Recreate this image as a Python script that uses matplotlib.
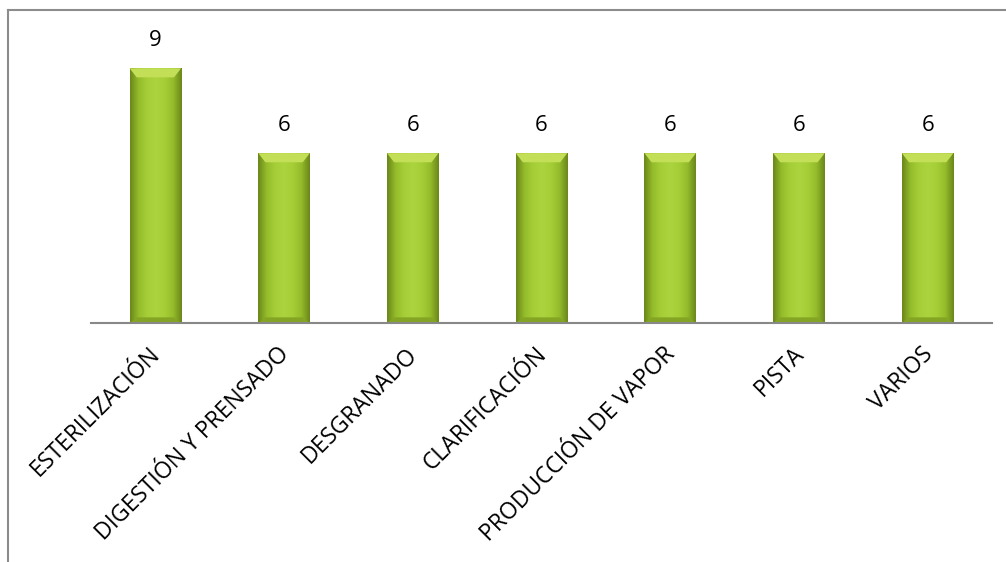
import numpy as np
import matplotlib.pyplot as plt
from matplotlib.lines import Line2D
from matplotlib.colors import LinearSegmentedColormap
from matplotlib.transforms import ScaledTranslation

# data
categories = ["ESTERILIZACIÓN", "DIGESTIÓN Y PRENSADO", "DESGRANADO",
              "CLARIFICACIÓN", "PRODUCCIÓN DE VAPOR", "PISTA", "VARIOS"]
values = [9, 6, 6, 6, 6, 6, 6]

plt.rcParams['font.family'] = ['Open Sans', 'DejaVu Sans']

fig = plt.figure(figsize=(10.06, 5.62), dpi=100)
ax = fig.add_axes([91 / 1006, 1 - 323 / 562, 901 / 1006, 283 / 562])

x = np.arange(len(categories))
width = 0.40
bars = ax.bar(x, values, width=width, color='#9cc42e', edgecolor='none', zorder=2)

# horizontal gradient on each bar: darker sides, lighter middle
side = LinearSegmentedColormap.from_list(
    'side', ['#6a861a', '#95bd2b', '#a6ce37', '#acd43e', '#a6ce37', '#95bd2b', '#6a861a'])
grad = np.linspace(0, 1, 256).reshape(1, -1)
for b in bars:
    x0, w, h = b.get_x(), b.get_width(), b.get_height()
    im = ax.imshow(grad, cmap=side, aspect='auto', zorder=3,
                   extent=[x0, x0 + w, 0, h], interpolation='bicubic')
    im.set_clip_path(b)
    # bevel on top
    bev = 0.32
    ins = 0.055
    ax.fill([x0, x0 + w, x0 + w - ins, x0 + ins],
            [h, h, h - bev, h - bev], color='#c3df57', zorder=4, lw=0)
    # bottom shade
    ax.fill([x0, x0 + w, x0 + w - ins, x0 + ins],
            [0, 0, 0.2, 0.2], color='#84a524', zorder=4, lw=0)
    ax.annotate(f"{int(h)}", (x0 + w / 2, h), xytext=(0, 20),
                textcoords='offset points', ha='center', va='center',
                fontsize=16, color='black')

ax.set_xlim(-0.5, len(categories) - 0.5)
ax.set_ylim(0, 10)
ax.set_yticks([])
ax.set_xticks(x)
ax.set_xticklabels(categories, rotation=45, ha='right', rotation_mode='anchor',
                   fontsize=16.5)
ax.tick_params(axis='x', length=0, pad=12)
shift = ScaledTranslation(-5 / 72, -2 / 72, fig.dpi_scale_trans)
for lab in ax.get_xticklabels():
    lab.set_transform(lab.get_transform() + shift)
for s in ['top', 'right', 'left']:
    ax.spines[s].set_visible(False)
ax.spines['bottom'].set_color('#888888')
ax.spines['bottom'].set_linewidth(1.5)
ax.spines['bottom'].set_zorder(5)

# outer chart frame (top and left edges visible)
fig.add_artist(Line2D([8 / 1006, 8 / 1006], [0, 1 - 10 / 562],
                      transform=fig.transFigure, color='#8c8c8c', lw=1.5))
fig.add_artist(Line2D([8 / 1006, 1], [1 - 10 / 562, 1 - 10 / 562],
                      transform=fig.transFigure, color='#8c8c8c', lw=1.5))

fig.savefig('out.png', dpi=100)
